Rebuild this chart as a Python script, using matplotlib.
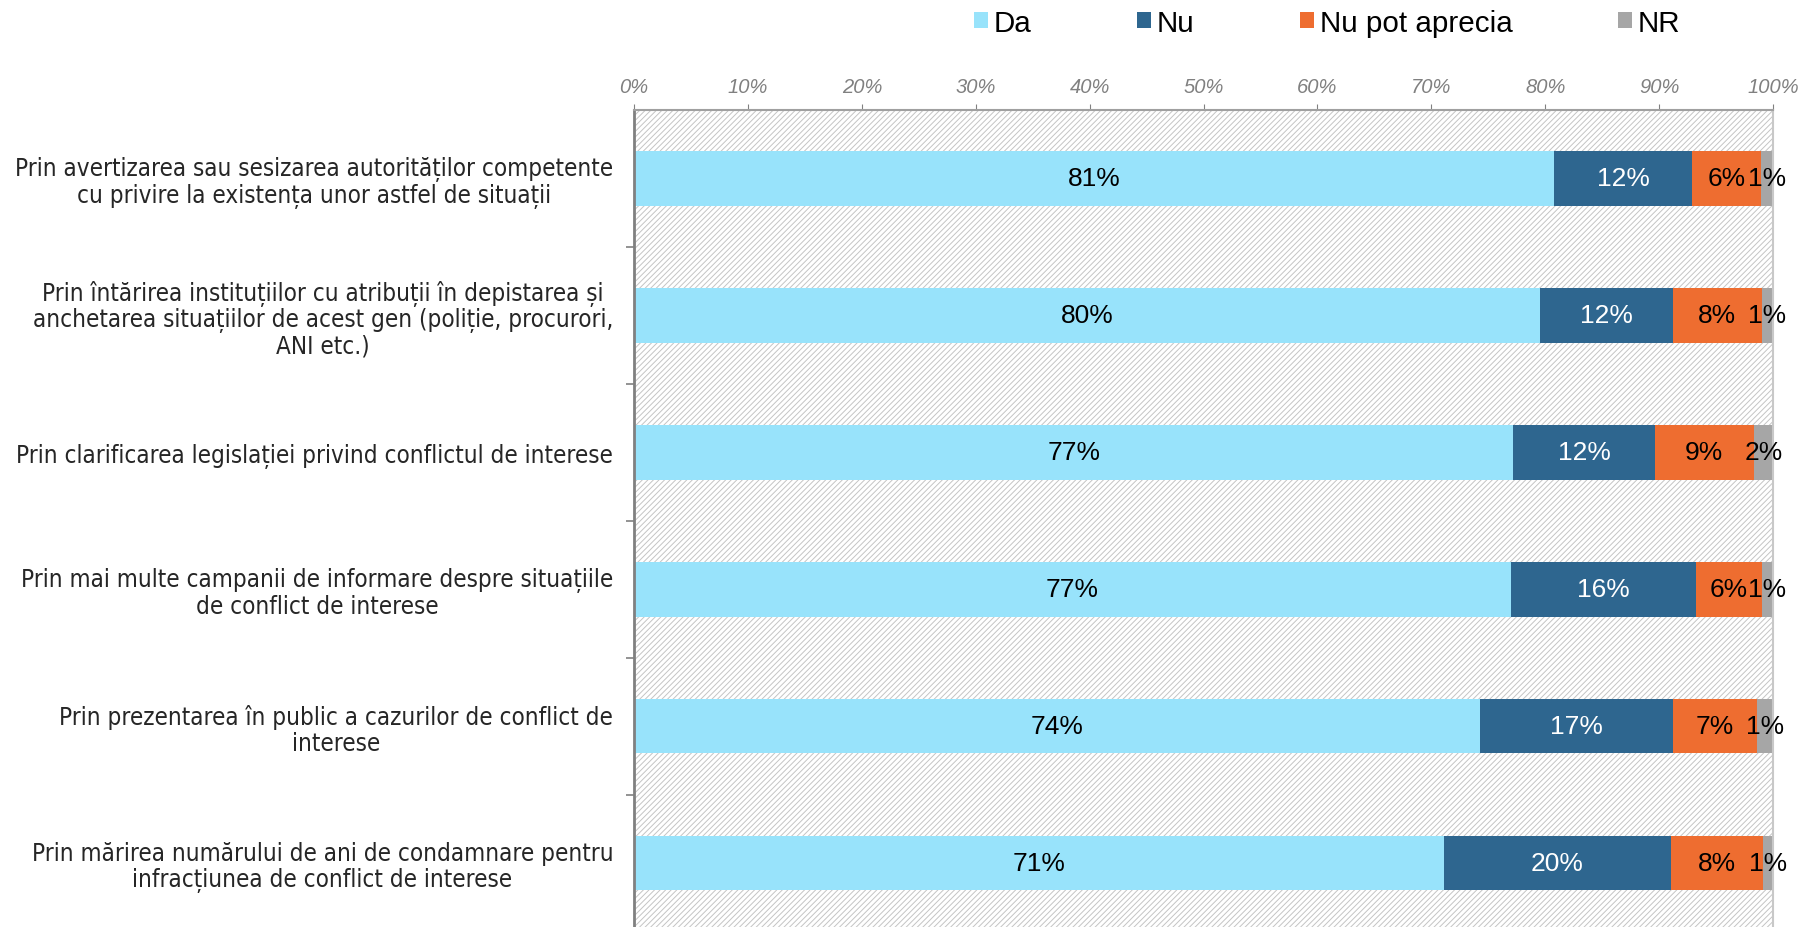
import matplotlib.pyplot as plt
from matplotlib.patches import Rectangle, Patch
from matplotlib.ticker import FixedLocator

# data (percent)
categories = [
    "Prin avertizarea sau sesizarea autorităților competente\ncu privire la existența unor astfel de situații",
    "Prin întărirea instituțiilor cu atribuții în depistarea și\nanchetarea situațiilor de acest gen (poliție, procurori,\nANI etc.)",
    "Prin clarificarea legislației privind conflictul de interese",
    "Prin mai multe campanii de informare despre situațiile\nde conflict de interese",
    "Prin prezentarea în public a cazurilor de conflict de\ninterese",
    "Prin mărirea numărului de ani de condamnare pentru\ninfracțiunea de conflict de interese",
]
da = [80.8, 79.5, 77.2, 77.0, 74.3, 71.1]
nu = [12.1, 11.7, 12.4, 16.2, 16.9, 19.9]
nu_pot = [6.0, 7.8, 8.7, 5.8, 7.4, 8.1]
nr = [1.1, 1.0, 1.7, 1.0, 1.4, 0.9]
series_names = ["Da", "Nu", "Nu pot aprecia", "NR"]
x_ticks = [0, 10, 20, 30, 40, 50, 60, 70, 80, 90, 100]

colors = ["#98E3FB", "#2E668F", "#EE6D30", "#A6A6A6"]
text_colors = ["black", "white", "black", "black"]

plt.rcParams["hatch.linewidth"] = 0.7

fig = plt.figure(figsize=(18.12, 9.28), dpi=100)
ax = fig.add_axes([0.3499, -0.0048, 0.6286, 0.8852])

# hatched background
ax.add_patch(Rectangle((0, 0), 1, 1, transform=ax.transAxes, facecolor="white",
                       edgecolor="#C4C4C4", hatch="//////", linewidth=0, zorder=0))

y = list(range(len(categories)))
left = [0.0] * len(categories)
for vals, name, col, tcol in zip([da, nu, nu_pot, nr], series_names, colors, text_colors):
    ax.barh(y, vals, left=left, height=0.4, color=col, label=name, zorder=2)
    for i, v in enumerate(vals):
        ax.text(left[i] + v / 2, i, f"{round(v)}%", ha="center", va="center",
                color=tcol, fontsize=19, family="Liberation Sans", zorder=3)
    left = [l + v for l, v in zip(left, vals)]

ax.set_xlim(0, 100)
ax.set_ylim(len(categories) - 0.5, -0.5)

ax.xaxis.tick_top()
ax.set_xticks(x_ticks)
ax.set_xticklabels([f"{t}%" for t in x_ticks], fontsize=14.5, style="italic",
                   color="#808080", family="Liberation Sans")
ax.tick_params(axis="x", which="major", length=4, color="#808080", pad=6)

ax.set_yticks(y)
ax.set_yticklabels(categories, fontsize=17.4, color="#262626", family="DejaVu Sans",
                   fontstretch="condensed", linespacing=1.08)
for lab in ax.get_yticklabels():
    lab.set_multialignment("center")
ax.tick_params(axis="y", which="major", length=0, pad=15)
ax.yaxis.set_minor_locator(FixedLocator([i + 0.5 for i in y[:-1]]))
ax.tick_params(axis="y", which="minor", length=6, color="#808080", width=1.2)

ax.spines["left"].set_color("#808080")
ax.spines["left"].set_linewidth(2)
ax.spines["top"].set_color("#A0A0A0")
ax.spines["top"].set_linestyle((0, (1, 1)))
ax.spines["top"].set_linewidth(1.5)
ax.spines["right"].set_color("#C8C8C8")
ax.spines["right"].set_linewidth(1.5)
ax.spines["bottom"].set_visible(False)

handles = [Patch(facecolor=c, edgecolor="none") for c in colors]
fig.legend(handles, series_names, loc="center left", bbox_to_anchor=(974 / 1812, 1 - 23.5 / 928),
           ncol=4, frameon=False, prop={"family": "Liberation Sans", "size": 21.3},
           handlelength=0.48, handleheight=0.5, handletextpad=0.2, columnspacing=3.55,
           borderpad=0, borderaxespad=0)

fig.savefig("out.png", dpi=100)
